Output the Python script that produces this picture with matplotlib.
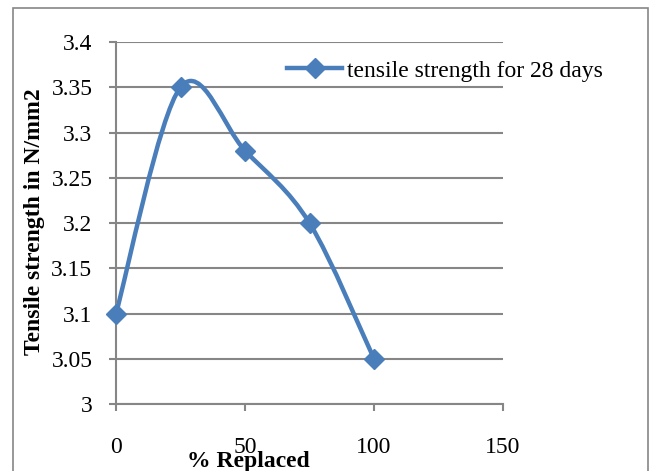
import matplotlib.pyplot as plt
from matplotlib.path import Path
from matplotlib.patches import PathPatch, Rectangle
from matplotlib.lines import Line2D
import numpy as np

plt.rcParams['font.family'] = ['Liberation Serif', 'DejaVu Serif']

replaced = [0, 25, 50, 75, 100]
strength = [3.1, 3.35, 3.28, 3.2, 3.05]
series_name = "tensile strength for 28 days"
xticks = [0, 50, 100, 150]
yticks = [3, 3.05, 3.1, 3.15, 3.2, 3.25, 3.3, 3.35, 3.4]

blue = '#4A7EBB'
grey = '#868686'
fs = 17


def smooth_path(xs, ys):
    # excel style smoothed line: bezier segments with catmull-rom control points
    pts = np.column_stack([xs, ys]).astype(float)
    ext = np.vstack([pts[0], pts, pts[-1]])
    verts = [pts[0]]
    codes = [Path.MOVETO]
    for i in range(1, len(ext) - 2):
        p0, p1, p2, p3 = ext[i - 1], ext[i], ext[i + 1], ext[i + 2]
        verts += [p1 + (p2 - p0) / 6, p2 - (p3 - p1) / 6, p2]
        codes += [Path.CURVE4] * 3
    return Path(verts, codes)


fig = plt.figure(figsize=(6.5, 4.71), dpi=100)
fig.add_artist(Rectangle((13 / 650, -0.05), 635 / 650, 1 - 8 / 471 + 0.05,
                         transform=fig.transFigure, fill=False,
                         edgecolor=grey, linewidth=1.2))

ax = fig.add_axes([116 / 650, 1 - 404 / 471, 387 / 650, 362 / 471])
ax.set_xlim(0, 150)
ax.set_ylim(3, 3.4)
ax.set_xticks(xticks)
ax.set_yticks(yticks)
ax.set_yticklabels([f"{v:g}" for v in yticks])

ax.grid(axis='y', color=grey, linewidth=1.5)
ax.set_axisbelow(True)
for side in ['top', 'right']:
    ax.spines[side].set_visible(False)
for side in ['left', 'bottom']:
    ax.spines[side].set_color(grey)
    ax.spines[side].set_linewidth(1.5)
ax.tick_params(axis='both', colors=grey, width=1.5, length=5, labelcolor='black',
               labelsize=fs)
ax.tick_params(axis='x', pad=19)
ax.tick_params(axis='y', pad=12)

ax.add_patch(PathPatch(smooth_path(replaced, strength), facecolor='none',
                       edgecolor=blue, linewidth=3.2, clip_on=False))
ax.plot(replaced, strength, linestyle='none', marker='D', markersize=10,
        color=blue, clip_on=False, zorder=3)

handle = Line2D([], [], color=blue, linewidth=3.2, marker='D', markersize=10)
ax.legend([handle], [series_name], loc='upper left', bbox_to_anchor=(0.442, 0.95),
          frameon=False, fontsize=fs, handlelength=2.33, handletextpad=0.2,
          borderaxespad=0, borderpad=0)

fig.text(35 / 650, 1 - 222 / 471, "Tensile strength in N/mm2", rotation=90,
         ha='center', va='center', fontsize=fs, fontweight='bold')
fig.text(248 / 650, 1 - 461 / 471, "% Replaced", ha='center', va='center',
         fontsize=fs, fontweight='bold')

fig.savefig("out.png", dpi=100)
